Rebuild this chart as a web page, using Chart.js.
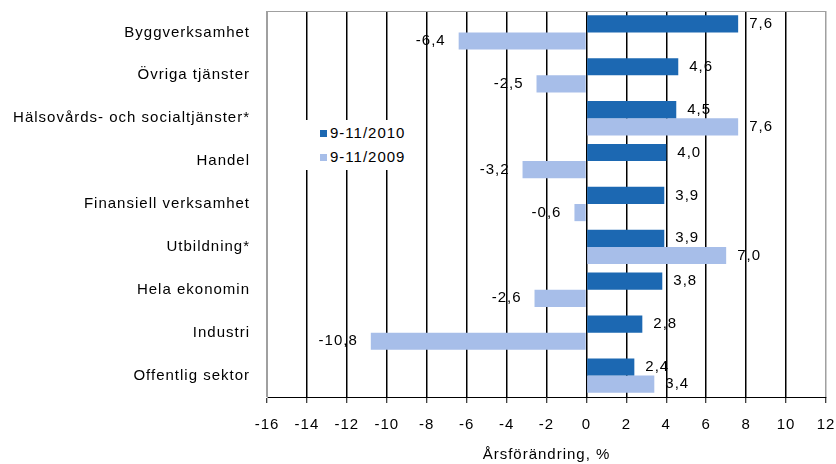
<!DOCTYPE html>
<html>
<head>
<meta charset="utf-8">
<script src="https://cdn.jsdelivr.net/npm/chart.js@4/dist/chart.umd.min.js"></script>
<style>
  body { margin: 0; background: #fff; }
  #wrap { position: relative; width: 836px; height: 464px; }
  #legend {
    position: absolute; left: 303px; top: 120px; width: 110px; height: 50px;
    background: #fff; font: 15px "Liberation Sans", Arial, sans-serif; letter-spacing: 1px; color: #000;
  }
  .item { position: absolute; left: 17px; height: 18px; line-height: 18px; }
  .item i { display: inline-block; width: 7px; height: 7px; margin-right: 3px; vertical-align: 1px; }
</style>
</head>
<body>
<div id="wrap">
  <canvas id="chart" width="836" height="464"></canvas>
  <div id="legend">
    <div class="item" style="top:4px"><i style="background:#1c68b2"></i>9-11/2010</div>
    <div class="item" style="top:28px"><i style="background:#a7bee9"></i>9-11/2009</div>
  </div>
</div>
<script>
// Data
const categories = ['Byggverksamhet', 'Övriga tjänster', 'Hälsovårds- och socialtjänster*', 'Handel',
  'Finansiell verksamhet', 'Utbildning*', 'Hela ekonomin', 'Industri', 'Offentlig sektor'];
const series2010 = [7.6, 4.6, 4.5, 4.0, 3.9, 3.9, 3.8, 2.8, 2.4];
const series2009 = [-6.4, -2.5, 7.6, -3.2, -0.6, 7.0, -2.6, -10.8, 3.4];
const xTicks = [-16, -14, -12, -10, -8, -6, -4, -2, 0, 2, 4, 6, 8, 10, 12];

const FONT = { family: '"Liberation Sans", Arial, sans-serif', size: 15 };

function fmt(v) {
    return v.toFixed(1).replace('.', ',');
}

// canvas letter spacing like the original rendering
const spacing = {
    id: 'spacing',
    beforeLayout(chart) { chart.ctx.letterSpacing = '1px'; },
    beforeDraw(chart) { chart.ctx.letterSpacing = '1px'; }
};

// grey top frame line
const frame = {
    id: 'frame',
    beforeDatasetsDraw(chart) {
        const { ctx, chartArea } = chart;
        ctx.save();
        ctx.strokeStyle = '#a0a0a0';
        ctx.lineWidth = 1;
        ctx.beginPath();
        ctx.moveTo(chartArea.left, chartArea.top + 0.5);
        ctx.lineTo(chartArea.right, chartArea.top + 0.5);
        ctx.stroke();
        ctx.restore();
    }
};

// value labels at the bar ends
const valueLabels = {
    id: 'valueLabels',
    afterDatasetsDraw(chart) {
        const ctx = chart.ctx;
        ctx.save();
        ctx.font = FONT.size + 'px ' + FONT.family;
        ctx.fillStyle = '#000';
        ctx.textBaseline = 'middle';
        chart.data.datasets.forEach((ds, di) => {
            chart.getDatasetMeta(di).data.forEach((bar, i) => {
                const v = ds.data[i];
                if (v >= 0) {
                    ctx.textAlign = 'left';
                    ctx.fillText(fmt(v), bar.x + 11, bar.y);
                } else {
                    ctx.textAlign = 'right';
                    ctx.fillText(fmt(v), bar.x - 13, bar.y);
                }
            });
        });
        ctx.restore();
    }
};

new Chart(document.getElementById('chart'), {
    type: 'bar',
    data: {
        labels: categories,
        datasets: [
            { label: '9-11/2010', data: series2010, backgroundColor: '#1c68b2', categoryPercentage: 0.8, barPercentage: 1.0 },
            { label: '9-11/2009', data: series2009, backgroundColor: '#a7bee9', categoryPercentage: 0.8, barPercentage: 1.0 }
        ]
    },
    options: {
        indexAxis: 'y',
        responsive: false,
        animation: false,
        layout: { padding: { top: 11, right: 10, left: 0, bottom: 0 } },
        plugins: {
            legend: { display: false },
            tooltip: { enabled: false }
        },
        scales: {
            x: {
                min: -16,
                max: 12,
                afterBuildTicks: (scale) => { scale.ticks = xTicks.map(v => ({ value: v })); },
                afterFit: (scale) => {
                    scale.height = 67;
                    scale.paddingLeft = 0;
                    scale.paddingRight = 0;
                },
                ticks: {
                    color: '#000',
                    font: FONT,
                    padding: 13,
                    maxRotation: 0,
                    callback: (v) => String(v)
                },
                grid: {
                    color: (c) => (c.tick && (c.tick.value === 12 || c.tick.value === -16)) ? '#a0a0a0' : '#000',
                    lineWidth: 1.5,
                    tickColor: '#000',
                    tickWidth: 1,
                    tickLength: 6
                },
                border: { color: '#000', width: 1 },
                title: {
                    display: true,
                    text: 'Årsförändring, %',
                    color: '#000',
                    font: FONT,
                    padding: { top: 0, bottom: 0 }
                }
            },
            y: {
                afterFit: (scale) => {
                    scale.width = 267;
                    scale.paddingTop = 0;
                    scale.paddingBottom = 0;
                },
                ticks: { color: '#000', font: FONT, padding: 17 },
                grid: { display: false, drawTicks: false },
                border: { color: '#a0a0a0', width: 1 }
            }
        }
    },
    plugins: [spacing, frame, valueLabels]
});
</script>
</body>
</html>
